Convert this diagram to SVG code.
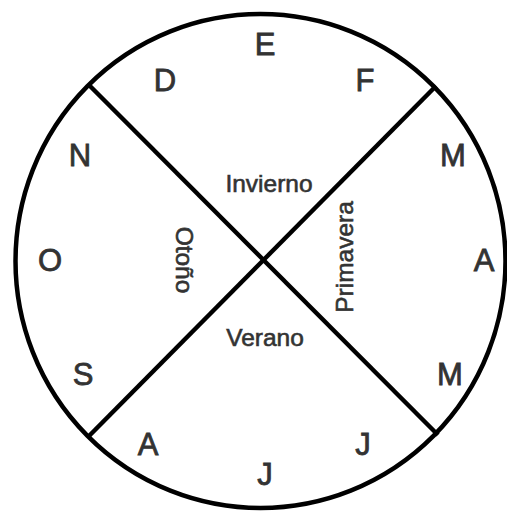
<svg xmlns="http://www.w3.org/2000/svg" width="507" height="511" viewBox="0 0 507 511">
  <style>
    .ln { fill: none; stroke: #000; stroke-width: 4.5; }
    .m { font-family: "Liberation Sans", Arial, sans-serif; font-size: 31px; fill: #333; stroke: #333; stroke-width: 0.8; text-anchor: middle; }
    .s { font-family: "Liberation Sans", Arial, sans-serif; font-size: 24.5px; fill: #333; stroke: #333; stroke-width: 0.6; text-anchor: middle; }
  </style>
  <rect width="507" height="511" fill="#fff"/>
  <g id="wheel">
    <ellipse class="ln" cx="260.5" cy="261" rx="245" ry="247"/>
  </g>
  <g id="connectors">
    <line class="ln" x1="90" y1="86" x2="438" y2="435"/>
    <line class="ln" x1="436" y1="86" x2="89" y2="436"/>
  </g>
  <g id="months">
    <text class="m" x="265" y="55">E</text>
    <text class="m" x="165" y="91">D</text>
    <text class="m" x="365" y="91">F</text>
    <text class="m" x="80" y="166">N</text>
    <text class="m" x="453" y="166">M</text>
    <text class="m" x="50" y="271">O</text>
    <text class="m" x="484" y="271">A</text>
    <text class="m" x="83" y="385">S</text>
    <text class="m" x="450" y="385">M</text>
    <text class="m" x="148" y="455">A</text>
    <text class="m" x="363" y="455">J</text>
    <text class="m" x="265" y="485">J</text>
  </g>
  <g id="invierno"><text class="s" x="269" y="192">Invierno</text></g>
  <g id="verano"><text class="s" x="265" y="346">Verano</text></g>
  <g id="otono"><text class="s" transform="translate(176,260) rotate(90)">Otoño</text></g>
  <g id="primavera"><text class="s" transform="translate(353,257) rotate(-90)">Primavera</text></g>
</svg>
